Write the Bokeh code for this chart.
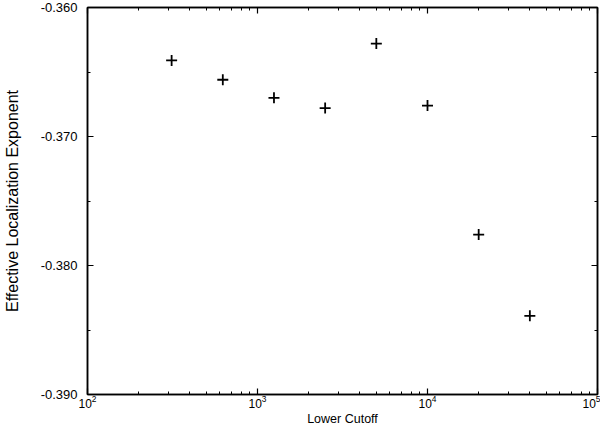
from bokeh.plotting import figure
from bokeh.models import (LogAxis, LinearAxis, LogTicker, FixedTicker,
                          PrintfTickFormatter, Range1d, ColumnDataSource,
                          CustomJSTickFormatter)
from bokeh.embed import file_html
from bokeh.resources import INLINE

# Data
lower_cutoff = [312.5, 625, 1250, 2500, 5000, 10000, 20000, 40000]
exponent = [-0.3641, -0.3656, -0.3670, -0.3678, -0.3628, -0.3676, -0.3776, -0.3839]

y_ticks = [-0.390, -0.380, -0.370, -0.360]
y_minor = [-0.385, -0.375, -0.365]

FONT = "Liberation Sans"

p = figure(width=600, height=428, x_axis_type="log",
           x_range=Range1d(100, 100000), y_range=Range1d(-0.390, -0.360),
           output_backend="svg", toolbar_location=None,
           min_border_left=86, min_border_right=3, min_border_top=7,
           min_border_bottom=34)
p.grid.visible = False
p.background_fill_color = "white"
p.border_fill_color = "white"
p.outline_line_color = "black"
p.outline_line_width = 1.5

src = ColumnDataSource(dict(x=lower_cutoff, y=exponent))
p.scatter("x", "y", source=src, marker="cross", size=11,
          line_color="black", line_width=1.8)

def style(ax):
    ax.axis_line_color = "black"
    ax.axis_line_width = 1.5
    ax.major_tick_in = 6
    ax.major_tick_out = 0
    ax.minor_tick_in = 3
    ax.minor_tick_out = 0
    ax.major_tick_line_color = "black"
    ax.minor_tick_line_color = "black"
    ax.major_tick_line_width = 1.2
    ax.minor_tick_line_width = 1.0
    ax.major_label_text_font = FONT
    ax.major_label_text_color = "black"
    ax.axis_label_text_font = FONT
    ax.axis_label_text_font_style = "normal"
    ax.axis_label_text_color = "black"

def hide_labels(ax):
    ax.formatter = CustomJSTickFormatter(code="return ' '")
    ax.major_label_text_font_size = "1px"
    ax.major_label_text_alpha = 0
    ax.major_label_standoff = 0

xt = LogTicker(desired_num_ticks=4, num_minor_ticks=10)
yt = FixedTicker(ticks=y_ticks, minor_ticks=y_minor)

xa = p.xaxis[0]
xa.ticker = xt
style(xa)
xa.axis_label = "Lower Cutoff"
xa.axis_label_text_font_size = "12.5px"
xa.major_label_text_font_size = "12px"
xa.major_label_standoff = 0
xa.axis_label_standoff = 1

ya = p.yaxis[0]
ya.ticker = yt
ya.formatter = PrintfTickFormatter(format="%.3f")
style(ya)
ya.axis_label = "Effective Localization Exponent"
ya.axis_label_text_font_size = "16px"
ya.major_label_text_font_size = "13px"
ya.major_label_standoff = 10
ya.axis_label_standoff = 17

top = LogAxis(ticker=xt)
style(top)
hide_labels(top)
p.add_layout(top, "above")

right = LinearAxis(ticker=yt)
style(right)
hide_labels(right)
p.add_layout(right, "right")

open("out.html", "w").write(file_html(p, INLINE))
